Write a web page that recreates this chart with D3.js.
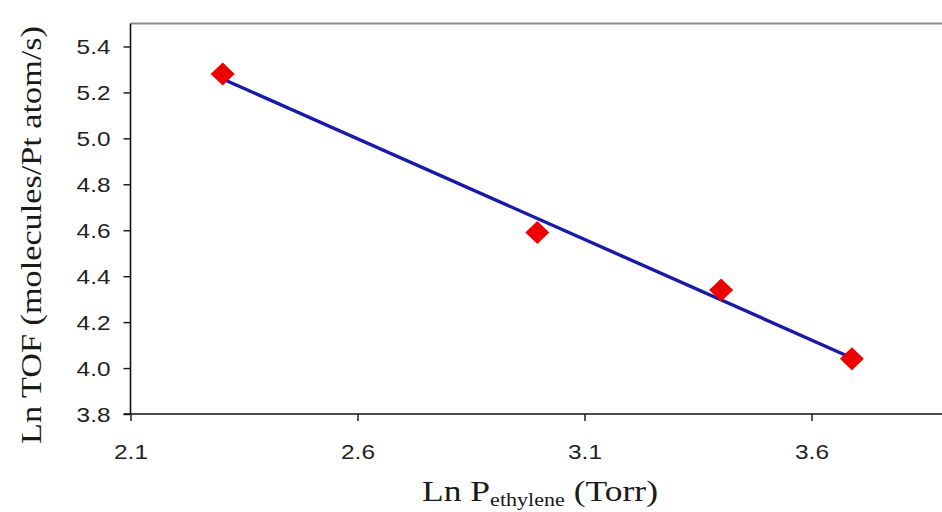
<!DOCTYPE html>
<html>
<head>
<meta charset="utf-8">
<script src="https://cdn.jsdelivr.net/npm/d3@7"></script>
<style>
  html, body { margin: 0; padding: 0; background: #fff; }
  svg { display: block; }
</style>
</head>
<body>
<svg id="chart" width="942" height="512"></svg>
<script>
// Ln P(ethylene) vs Ln TOF, with a least-squares trend line
const lnP = [2.303, 2.996, 3.401, 3.689];
const lnTOF = [5.28, 4.59, 4.34, 4.04];
const xTicks = [2.1, 2.6, 3.1, 3.6, 4.1];
const yTicks = [3.8, 4.0, 4.2, 4.4, 4.6, 4.8, 5.0, 5.2, 5.4];

const svg = d3.select("#chart");
const plotLeft = 130.5, plotTop = 23.5, plotBottom = 414;
const x = d3.scaleLinear().domain([2.1, 4.1]).range([plotLeft, plotLeft + 908]);
const y = d3.scaleLinear().domain([3.8, 5.5]).range([plotBottom, plotTop]);

const stretch = 1.22; // glyphs are drawn slightly wide

// plot frame: grey top edge
svg.append("line")
  .attr("x1", plotLeft).attr("x2", 942).attr("y1", plotTop).attr("y2", plotTop)
  .attr("stroke", "#8a8a8a").attr("stroke-width", 2);

// y axis
const yAxis = svg.append("g")
  .attr("transform", `translate(${plotLeft},0)`)
  .call(d3.axisLeft(y).tickValues(yTicks).tickSize(7).tickSizeOuter(0).tickFormat(d3.format(".1f")));
yAxis.select(".domain").attr("stroke", "#111").attr("stroke-width", 1.6)
  .attr("d", `M0,${plotTop}V${plotBottom}`);
yAxis.selectAll(".tick line").attr("stroke", "#111").attr("stroke-width", 1.4);
yAxis.selectAll(".tick text")
  .attr("x", 0).attr("dy", "0.36em")
  .attr("transform", `translate(-20,0) scale(${stretch},1)`)
  .attr("font-family", "Liberation Sans, Arial, sans-serif")
  .attr("font-size", 20).attr("fill", "#222");

// x axis (the last tick lies past the right edge)
const xAxis = svg.append("g")
  .attr("transform", `translate(0,${plotBottom})`)
  .call(d3.axisBottom(x).tickValues(xTicks).tickSize(7).tickSizeOuter(0).tickFormat(d3.format(".1f")));
xAxis.select(".domain").attr("stroke", "#111").attr("stroke-width", 1.6)
  .attr("d", `M${plotLeft - 7},0H${plotLeft + 908}`);
xAxis.selectAll(".tick line").attr("stroke", "#111").attr("stroke-width", 1.4);
xAxis.selectAll(".tick text")
  .attr("y", 0).attr("dy", 0)
  .attr("transform", `translate(0,45) scale(${stretch},1)`)
  .attr("font-family", "Liberation Sans, Arial, sans-serif")
  .attr("font-size", 20).attr("fill", "#222");
xAxis.selectAll(".tick").filter(d => x(d) > 942).remove();

// least-squares fit drawn across the data range
const mx = d3.mean(lnP), my = d3.mean(lnTOF);
const sxy = d3.sum(lnP, (v, i) => (v - mx) * (lnTOF[i] - my));
const sxx = d3.sum(lnP, v => (v - mx) * (v - mx));
const slope = sxy / sxx, icpt = my - slope * mx;
const xr = d3.extent(lnP);
svg.append("path")
  .datum(xr.map(v => [v, icpt + slope * v]))
  .attr("d", d3.line().x(d => x(d[0])).y(d => y(d[1])))
  .attr("stroke", "#1a1aa8").attr("stroke-width", 3.4).attr("fill", "none");

// diamond markers
svg.append("g").selectAll("path")
  .data(lnP.map((v, i) => [v, lnTOF[i]]))
  .join("path")
  .attr("transform", d => `translate(${x(d[0])},${y(d[1])})`)
  .attr("d", "M0,-11.5L12,0L0,11.5L-12,0Z")
  .attr("fill", "#ee0000");

// axis titles
svg.append("text")
  .attr("transform", "translate(41,235) rotate(-90)")
  .attr("text-anchor", "middle")
  .attr("font-family", "Liberation Serif, Times New Roman, serif")
  .attr("font-size", 30).attr("fill", "#1a1a1a")
  .attr("textLength", 418).attr("lengthAdjust", "spacingAndGlyphs")
  .text("Ln TOF (molecules/Pt atom/s)");

const xt = svg.append("text")
  .attr("transform", "translate(540,501)")
  .attr("text-anchor", "middle")
  .attr("font-family", "Liberation Serif, Times New Roman, serif")
  .attr("font-size", 29).attr("fill", "#1a1a1a")
  .attr("textLength", 236).attr("lengthAdjust", "spacingAndGlyphs");
xt.append("tspan").text("Ln P");
xt.append("tspan").attr("font-size", 18).attr("dy", 5).text("ethylene");
xt.append("tspan").attr("dy", -5).text(" (Torr)");
</script>
</body>
</html>
